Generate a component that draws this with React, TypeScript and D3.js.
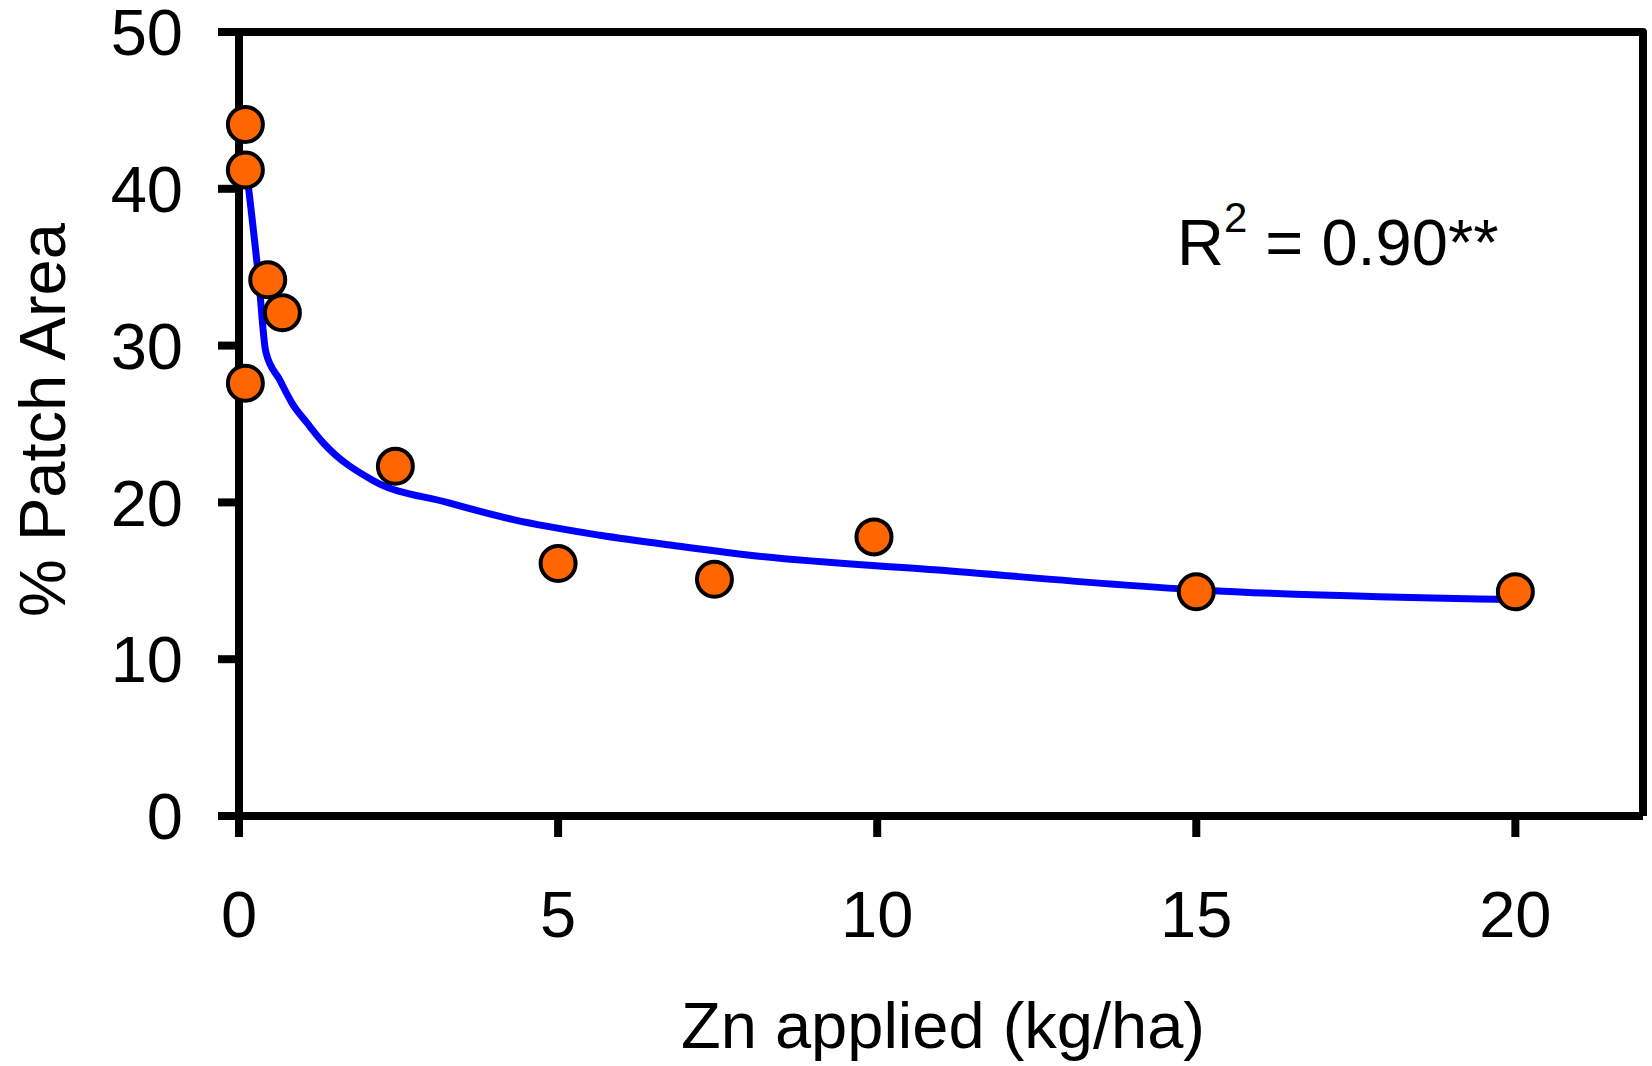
import React from 'react';
import * as d3 from 'd3';

// observed points: Zn applied (kg/ha) vs % patch area
const znApplied = [0.1, 0.1, 0.1, 0.45, 0.68, 2.45, 5.0, 7.45, 9.95, 15.0, 20.0];
const patchArea = [44.1, 41.2, 27.6, 34.2, 32.1, 22.3, 16.1, 15.1, 17.8, 14.3, 14.3];

// fitted trend line
const fitX = [0.14, 0.31, 0.42, 0.64, 0.85, 1.06, 1.32, 2.1, 3.26, 4.3, 5.66, 6.9, 8.07, 10.9, 15.1, 20];
const fitY = [40.4, 34.2, 29.6, 27.8, 26.2, 25.1, 23.8, 21.4, 20.0, 18.9, 17.9, 17.2, 16.6, 15.7, 14.4, 13.8];

const xTicks = [0, 5, 10, 15, 20];
const yTicks = [0, 10, 20, 30, 40, 50];

const FONT = '"Liberation Sans", Arial, Helvetica, sans-serif';

export default function App() {
  const width = 1652;
  const height = 1066;
  const left = 239, right = 1643, top = 32, bottom = 816;

  const x = d3.scaleLinear().domain([0, 22]).range([left, right]);
  const y = d3.scaleLinear().domain([0, 50]).range([bottom, top]);

  const fit = fitX.map((v, i) => [v, fitY[i]] as [number, number]);
  const line = d3.line<[number, number]>()
    .x(d => x(d[0]))
    .y(d => y(d[1]))
    .curve(d3.curveMonotoneX);

  const tickLen = 21;
  const fs = 65;

  return (
    <svg width={width} height={height}
      style={{position: 'absolute', left: 0, top: 0, background: '#fff'}}
      fontFamily={FONT}>
      <rect x={0} y={0} width={width} height={height} fill="#fff" />

      {/* frame: top and right edges */}
      <path d={`M${left - tickLen},${top} H${right} V${bottom}`}
        fill="none" stroke="#000" strokeWidth={8} strokeLinejoin="round" />

      {/* y axis */}
      <line x1={left} x2={left} y1={top} y2={bottom + tickLen} stroke="#000" strokeWidth={8} />
      {yTicks.map(t => (
        <g key={'y' + t}>
          <line x1={left - tickLen} x2={left} y1={y(t)} y2={y(t)} stroke="#000" strokeWidth={8} />
          <text x={183} y={y(t) + fs * 0.358} textAnchor="end" fontSize={fs}>{t}</text>
        </g>
      ))}

      {/* x axis */}
      <line x1={left - tickLen} x2={right} y1={bottom} y2={bottom} stroke="#000" strokeWidth={8} />
      {xTicks.map(t => (
        <g key={'x' + t}>
          <line x1={x(t)} x2={x(t)} y1={bottom} y2={bottom + tickLen} stroke="#000" strokeWidth={8} />
          <text x={x(t)} y={937} textAnchor="middle" fontSize={fs}>{t}</text>
        </g>
      ))}

      {/* fitted curve */}
      <path d={line(fit) || ''} fill="none" stroke="#0000FF" strokeWidth={7} />

      {/* points */}
      {znApplied.map((v, i) => (
        <circle key={i} cx={x(v)} cy={y(patchArea[i])} r={17.5}
          fill="#FF6600" stroke="#000" strokeWidth={4} />
      ))}

      {/* R squared annotation */}
      <text x={1177} y={265} fontSize={fs}>
        R<tspan fontSize={42} dy={-33}>2</tspan><tspan dy={33}> = 0.90**</tspan>
      </text>

      {/* axis titles */}
      <text x={943} y={1048} textAnchor="middle" fontSize={fs}>Zn applied (kg/ha)</text>
      <text transform={`translate(65,420) rotate(-90)`} textAnchor="middle" fontSize={fs}>% Patch Area</text>
    </svg>
  );
}
